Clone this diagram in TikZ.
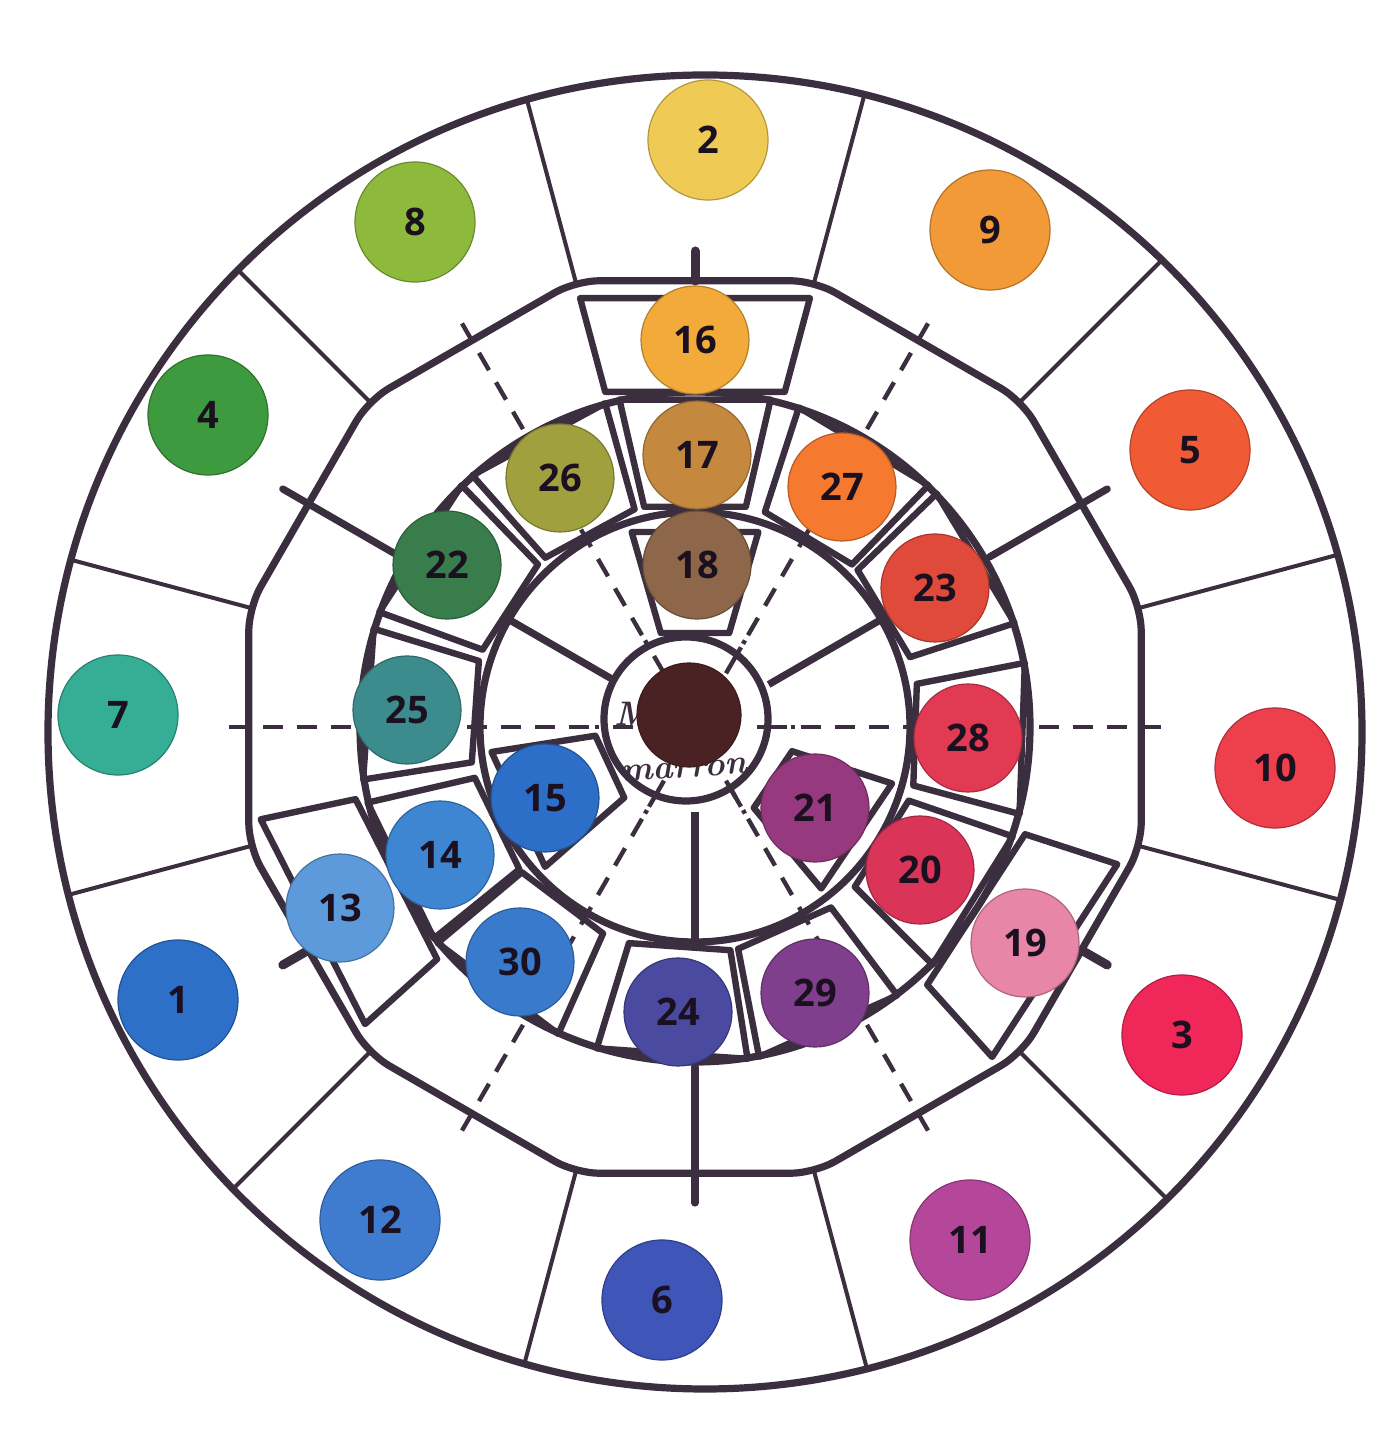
\documentclass[tikz,border=0pt]{standalone}
\usepackage{fontspec}
\setsansfont{Open Sans}
\usetikzlibrary{calc}
\definecolor{ink}{HTML}{3B2F3F}
\definecolor{numink}{HTML}{1A1020}
\definecolor{c1}{HTML}{2E6FC8}
\definecolor{c2}{HTML}{EFCB55}
\definecolor{c3}{HTML}{F0285A}
\definecolor{c4}{HTML}{3E9A3F}
\definecolor{c5}{HTML}{F05A35}
\definecolor{c6}{HTML}{3F56B8}
\definecolor{c7}{HTML}{35AE95}
\definecolor{c8}{HTML}{8DBA3C}
\definecolor{c9}{HTML}{F29A38}
\definecolor{c10}{HTML}{EE3F4D}
\definecolor{c11}{HTML}{B5479B}
\definecolor{c12}{HTML}{3F7CCF}
\definecolor{c13}{HTML}{5C9ADB}
\definecolor{c14}{HTML}{3F86D2}
\definecolor{c15}{HTML}{2C6EC8}
\definecolor{c16}{HTML}{F2AA3A}
\definecolor{c17}{HTML}{C4883E}
\definecolor{c18}{HTML}{8E664A}
\definecolor{c19}{HTML}{E886A8}
\definecolor{c20}{HTML}{DA3559}
\definecolor{c21}{HTML}{96397F}
\definecolor{c22}{HTML}{3A7D4C}
\definecolor{c23}{HTML}{DF4A3A}
\definecolor{c24}{HTML}{4A4AA0}
\definecolor{c25}{HTML}{3C8C8E}
\definecolor{c26}{HTML}{A0A03F}
\definecolor{c27}{HTML}{F57A30}
\definecolor{c28}{HTML}{E23A52}
\definecolor{c29}{HTML}{7F3F8C}
\definecolor{c30}{HTML}{3A7ACD}
\definecolor{ccore}{HTML}{4A2224}
\begin{document}
\begin{tikzpicture}[x=0.5pt,y=0.5pt,
  ringline/.style={draw=ink,line width=3.6pt},
  thinline/.style={draw=ink,line width=2pt},
  boxline/.style={draw=ink,line width=3.2pt,line join=round},
  dashline/.style={draw=ink,line width=2.2pt,dash pattern=on 10pt off 7pt},
  knob/.style={draw=ink,line width=4.5pt,line cap=round},
  dotA/.style={circle,minimum size=60pt,inner sep=0pt,line width=0.6pt,
    font=\sffamily\bfseries\fontsize{19}{19}\selectfont,text=numink},
  dotB/.style={dotA,minimum size=54pt},
  handtxt/.style={inner sep=0pt,text=ink,font=\itshape\bfseries\fontsize{17}{17}\selectfont},
]
\useasboundingbox (0,0) rectangle (1380,1436);
\fill[white] (0,0) rectangle (1380,1436);
\coordinate (C) at (695,709);
\coordinate (O) at (705,704);
\coordinate (K) at (686,717);

% dashed rays
\begin{scope}[shift={(C)}]
  \foreach \a in {0,60,120,180,240,300}
    \draw[dashline] (\a:72) -- (\a:478);
\end{scope}

% outer circle
\draw[ringline] (O) circle (657);

% 12-gon ring (lightly rounded)
\begin{scope}[shift={(C)}]
  \draw[ringline,rounded corners=12pt] (15:462) \foreach \k in {1,...,11}{ -- ({15+30*\k}:462)} -- cycle;
\end{scope}

% outer dividers
\begin{scope}
  \clip (O) circle (657);
  \begin{scope}[shift={(C)}]
    \foreach \k in {0,...,11}
      \draw[thinline] ({15+30*\k}:456) -- ({15+30*\k}:720);
  \end{scope}
\end{scope}

% inner circles
\draw[ringline] (C) circle (335);
\draw[ringline] (C) circle (215);

% thick radial strokes
\begin{scope}[shift={(C)}]
  \foreach \a in {30,150,270}{
    \draw[ringline,line cap=round] (\a:340) -- (\a:476);
    \draw[ringline] (\a:85) -- (\a:215);
  }
  \foreach \a in {90,210,330}
    \draw[knob] (\a:446) -- (\a:476);
\end{scope}

% boxes
\begin{scope}[shift={(C)}]
  \foreach \a in {90,59,31,-2,-32,-66,-94,-127,-154,176,147,118.5}
    \draw[boxline] ({\a-13}:226) -- ({\a-13}:336) -- ({\a+13}:336) -- ({\a+13}:226) -- cycle;
  \foreach \a in {90,207,-33}
    \draw[boxline] ({\a-15}:347) -- ({\a-15}:444) -- ({\a+15}:444) -- ({\a+15}:347) -- cycle;
  \foreach \a in {90,205,-34}
    \draw[boxline] ({\a-20}:100) -- ({\a-18}:205) -- ({\a+18}:205) -- ({\a+20}:100) -- cycle;
\end{scope}

% core circle
\draw[ringline,fill=white] (K) circle (82);
\begin{scope}[shift={(C)}]
  \foreach \a in {0,60,120,180,240,300}
    \draw[dashline] (\a:62) -- (\a:100);
\end{scope}

% handwriting
\node[handtxt] (hw1) at (633,722) {M};
\node[handtxt,rotate=4] (hw2) at (684,666) {marron};

% core dot
\node[dotA,minimum size=52pt,fill=ccore,draw=ccore!80!black] (dc) at (689,721) {};

% outer dots
\node[dotA,fill=c1,draw=c1!75!black] (d1) at (178,436) {1};
\node[dotA,fill=c2,draw=c2!75!black] (d2) at (708,1296) {2};
\node[dotA,fill=c3,draw=c3!75!black] (d3) at (1182,401) {3};
\node[dotA,fill=c4,draw=c4!75!black] (d4) at (208,1021) {4};
\node[dotA,fill=c5,draw=c5!75!black] (d5) at (1190,986) {5};
\node[dotA,fill=c6,draw=c6!75!black] (d6) at (662,136) {6};
\node[dotA,fill=c7,draw=c7!75!black] (d7) at (118,721) {7};
\node[dotA,fill=c8,draw=c8!75!black] (d8) at (415,1214) {8};
\node[dotA,fill=c9,draw=c9!75!black] (d9) at (990,1206) {9};
\node[dotA,fill=c10,draw=c10!75!black] (d10) at (1275,668) {10};
\node[dotA,fill=c11,draw=c11!75!black] (d11) at (970,196) {11};
\node[dotA,fill=c12,draw=c12!75!black] (d12) at (380,216) {12};

% inner dots
\node[dotB,fill=c13,draw=c13!75!black] (d13) at (340,528) {13};
\node[dotB,fill=c14,draw=c14!75!black] (d14) at (440,581) {14};
\node[dotB,fill=c15,draw=c15!75!black] (d15) at (545,638) {15};
\node[dotB,fill=c16,draw=c16!75!black] (d16) at (695,1096) {16};
\node[dotB,fill=c17,draw=c17!75!black] (d17) at (697,981) {17};
\node[dotB,fill=c18,draw=c18!75!black] (d18) at (697,871) {18};
\node[dotB,fill=c19,draw=c19!75!black] (d19) at (1025,493) {19};
\node[dotB,fill=c20,draw=c20!75!black] (d20) at (920,566) {20};
\node[dotB,fill=c21,draw=c21!75!black] (d21) at (815,628) {21};
\node[dotB,fill=c22,draw=c22!75!black] (d22) at (447,871) {22};
\node[dotB,fill=c23,draw=c23!75!black] (d23) at (935,848) {23};
\node[dotB,fill=c24,draw=c24!75!black] (d24) at (678,424) {24};
\node[dotB,fill=c25,draw=c25!75!black] (d25) at (407,726) {25};
\node[dotB,fill=c26,draw=c26!75!black] (d26) at (560,958) {26};
\node[dotB,fill=c27,draw=c27!75!black] (d27) at (842,949) {27};
\node[dotB,fill=c28,draw=c28!75!black] (d28) at (968,698) {28};
\node[dotB,fill=c29,draw=c29!75!black] (d29) at (815,443) {29};
\node[dotB,fill=c30,draw=c30!75!black] (d30) at (520,474) {30};
\end{tikzpicture}
\end{document}
